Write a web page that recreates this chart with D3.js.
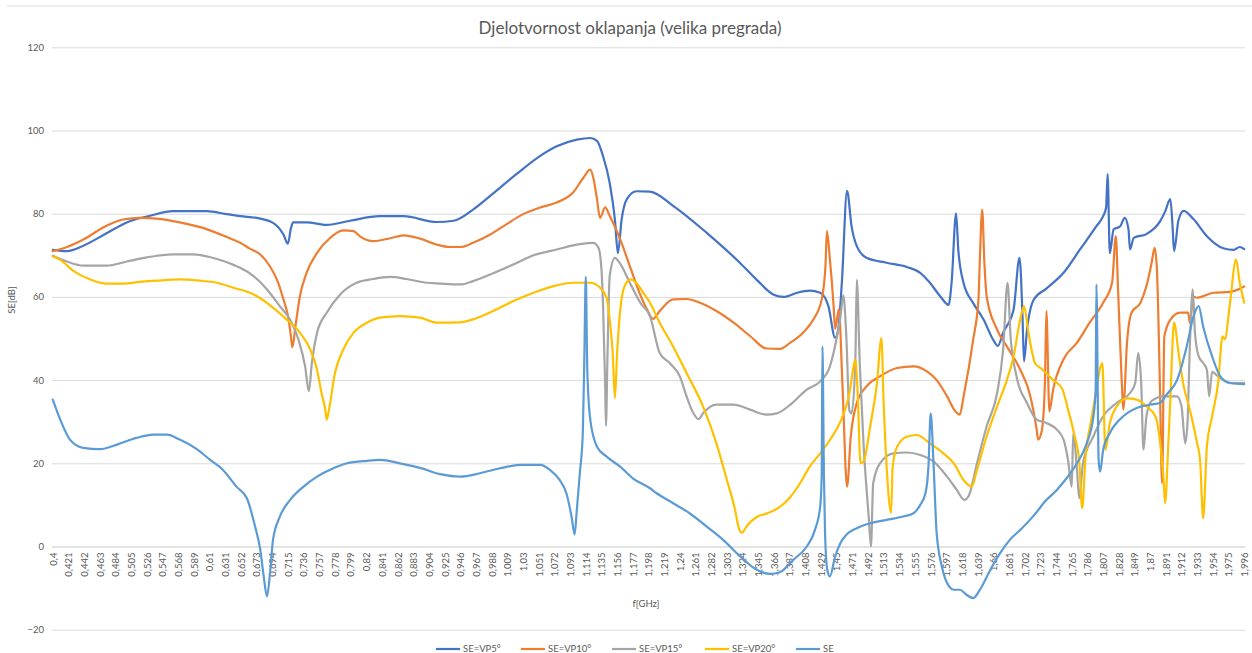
<!DOCTYPE html>
<html>
<head>
<meta charset="utf-8">
<script src="https://cdn.jsdelivr.net/npm/d3@7"></script>
<style>
  body { margin: 0; background: #fff; }
  svg { display: block; font-family: Lato, "Open Sans", sans-serif; }
</style>
</head>
<body>
<svg id="chart" width="1252" height="653"></svg>
<script>
// Djelotvornost oklapanja (velika pregrada) - SE vs f, Excel-style line chart

const xTickLabels = ['0,4','0,421','0,442','0,463','0,484','0,505','0,526','0,547','0,568','0,589','0,61','0,631','0,652','0,673','0,694','0,715','0,736','0,757','0,778','0,799','0,82','0,841','0,862','0,883','0,904','0,925','0,946','0,967','0,988',
  '1,009','1,03','1,051','1,072','1,093','1,114','1,135','1,156','1,177','1,198','1,219','1,24','1,261','1,282','1,303','1,324','1,345','1,366','1,387','1,408','1,429','1,45','1,471','1,492','1,513','1,534','1,555','1,576','1,597','1,618','1,639','1,66','1,681','1,702','1,723','1,744','1,765','1,786','1,807','1,828','1,849','1,87','1,891','1,912','1,933','1,954','1,975','1,996'];
const yTicks = [-20, 0, 20, 40, 60, 80, 100, 120];

// [f GHz, SE dB]
const vp5 = [[0.400,71.3],[0.419,71.0],[0.441,72.3],[0.472,75.3],[0.503,78.2],[0.530,79.5],[0.561,80.6],[0.606,80.6],[0.633,79.9],[0.651,79.4],[0.673,79.0],[0.695,77.8],[0.709,75.0],[0.715,72.8],[0.719,76.5],[0.722,77.9],[0.740,77.9],[0.767,77.3],[0.798,78.3],[0.838,79.4],[0.870,79.4],[0.914,78.0],[0.937,78.3],[0.963,81.0],[0.990,84.9],[1.021,89.5],[1.053,93.9],[1.075,96.2],[1.102,97.8],[1.120,98.2],[1.129,97.5],[1.137,93.9],[1.146,87.4],[1.153,78.6],[1.157,70.5],[1.162,78.6],[1.169,83.5],[1.182,85.4],[1.200,85.3],[1.231,81.9],[1.276,75.4],[1.321,68.1],[1.343,64.1],[1.365,60.6],[1.379,60.0],[1.397,61.0],[1.414,61.5],[1.428,61.0],[1.439,57.8],[1.448,50.2],[1.452,52.0],[1.457,63.4],[1.464,85.5],[1.470,77.0],[1.477,72.2],[1.490,69.4],[1.517,68.2],[1.544,67.2],[1.562,65.8],[1.575,63.4],[1.589,60.1],[1.600,58.1],[1.604,63.4],[1.610,80.1],[1.613,71.3],[1.620,63.4],[1.633,58.5],[1.647,54.5],[1.660,49.6],[1.666,48.2],[1.673,51.4],[1.687,56.9],[1.695,69.4],[1.699,55.3],[1.701,44.5],[1.705,52.0],[1.714,59.3],[1.731,62.0],[1.754,65.8],[1.776,71.4],[1.798,77.0],[1.807,79.4],[1.811,81.5],[1.813,89.5],[1.816,70.5],[1.821,76.2],[1.830,77.0],[1.836,79.0],[1.841,76.2],[1.843,71.4],[1.848,74.2],[1.865,75.1],[1.883,78.1],[1.890,80.5],[1.897,83.5],[1.900,77.0],[1.902,71.0],[1.908,78.5],[1.915,80.7],[1.928,78.7],[1.946,74.6],[1.968,71.7],[1.982,71.3],[1.990,72.0],[1.996,71.5]];

const vp10 = [[0.400,71.0],[0.419,72.0],[0.441,73.8],[0.472,77.1],[0.494,78.6],[0.517,79.0],[0.539,78.8],[0.570,77.9],[0.606,76.3],[0.633,74.4],[0.651,73.0],[0.664,71.6],[0.678,70.2],[0.691,67.3],[0.702,63.4],[0.709,59.4],[0.716,54.5],[0.719,50.5],[0.721,47.9],[0.725,52.9],[0.731,60.1],[0.740,65.8],[0.754,70.6],[0.771,74.1],[0.789,76.0],[0.803,75.8],[0.812,74.5],[0.829,73.4],[0.852,74.1],[0.870,74.8],[0.892,74.0],[0.914,72.6],[0.932,72.0],[0.946,72.0],[0.963,73.0],[0.986,75.0],[1.008,77.5],[1.030,79.9],[1.053,81.5],[1.075,82.7],[1.097,85.1],[1.111,88.7],[1.120,90.6],[1.124,88.7],[1.129,83.5],[1.133,79.0],[1.140,81.5],[1.146,79.5],[1.160,73.9],[1.173,67.4],[1.187,60.5],[1.196,57.0],[1.204,54.7],[1.213,56.6],[1.231,59.4],[1.249,59.5],[1.267,58.6],[1.289,56.6],[1.312,53.8],[1.334,50.6],[1.356,47.6],[1.374,47.5],[1.388,49.0],[1.405,51.4],[1.419,54.6],[1.430,59.4],[1.435,67.3],[1.437,75.8],[1.441,69.0],[1.446,57.8],[1.448,52.3],[1.453,57.0],[1.458,38.0],[1.464,14.4],[1.469,26.5],[1.477,34.5],[1.490,38.5],[1.508,40.9],[1.531,42.9],[1.553,43.3],[1.571,42.1],[1.584,40.0],[1.598,36.1],[1.609,32.5],[1.615,31.7],[1.620,36.0],[1.633,49.8],[1.640,59.4],[1.642,69.8],[1.645,81.0],[1.648,68.0],[1.651,60.1],[1.665,52.1],[1.678,48.1],[1.696,42.5],[1.709,36.5],[1.718,28.1],[1.720,25.7],[1.725,28.0],[1.729,39.3],[1.731,56.6],[1.735,32.5],[1.740,37.7],[1.754,45.0],[1.772,49.0],[1.789,53.8],[1.807,58.6],[1.819,63.4],[1.824,74.6],[1.827,61.8],[1.832,39.3],[1.834,32.9],[1.839,49.0],[1.845,56.2],[1.857,58.6],[1.865,62.6],[1.872,68.2],[1.876,71.8],[1.879,66.8],[1.883,39.3],[1.886,15.2],[1.889,50.5],[1.897,54.5],[1.910,56.2],[1.921,56.2],[1.923,53.8],[1.928,60.1],[1.932,59.8],[1.955,61.0],[1.977,61.2],[1.996,62.5]];

const vp15 = [[0.400,69.9],[0.419,68.5],[0.441,67.5],[0.472,67.5],[0.499,68.5],[0.526,69.5],[0.561,70.2],[0.588,70.2],[0.620,69.1],[0.642,67.7],[0.651,67.0],[0.669,65.0],[0.687,61.8],[0.704,57.8],[0.718,54.5],[0.729,49.8],[0.738,43.3],[0.743,37.3],[0.747,44.0],[0.754,51.4],[0.767,56.2],[0.785,60.6],[0.807,63.4],[0.829,64.3],[0.852,64.8],[0.874,64.3],[0.901,63.4],[0.919,63.2],[0.946,63.0],[0.963,63.8],[0.990,65.7],[1.017,67.8],[1.044,70.0],[1.075,71.4],[1.106,72.7],[1.124,73.0],[1.131,71.8],[1.135,66.6],[1.137,58.6],[1.140,38.5],[1.141,29.0],[1.143,45.2],[1.146,65.0],[1.153,69.4],[1.160,68.0],[1.173,63.4],[1.187,58.6],[1.200,55.4],[1.213,46.5],[1.227,44.0],[1.240,40.9],[1.249,36.1],[1.258,32.1],[1.265,30.6],[1.271,32.0],[1.289,34.1],[1.312,34.1],[1.334,32.9],[1.356,31.7],[1.370,32.0],[1.388,34.1],[1.410,37.7],[1.428,39.7],[1.441,43.3],[1.450,50.0],[1.455,55.0],[1.459,60.4],[1.463,50.5],[1.467,32.8],[1.470,32.0],[1.475,44.0],[1.477,64.1],[1.481,44.0],[1.486,24.8],[1.493,7.1],[1.496,0.0],[1.499,15.2],[1.508,20.0],[1.526,22.4],[1.544,22.6],[1.562,22.0],[1.580,20.4],[1.598,16.8],[1.611,13.6],[1.621,11.2],[1.627,12.2],[1.638,20.0],[1.651,28.9],[1.665,36.9],[1.673,47.3],[1.679,63.4],[1.683,50.5],[1.691,40.9],[1.705,34.5],[1.718,30.5],[1.731,29.7],[1.745,28.1],[1.754,25.7],[1.760,20.8],[1.765,14.4],[1.767,27.3],[1.772,18.4],[1.775,11.6],[1.780,20.0],[1.794,26.5],[1.807,31.3],[1.825,34.5],[1.843,36.9],[1.850,39.3],[1.854,46.5],[1.858,39.3],[1.861,23.3],[1.865,31.3],[1.872,35.0],[1.888,36.1],[1.906,36.1],[1.912,33.7],[1.917,24.8],[1.920,29.7],[1.923,47.3],[1.927,61.8],[1.930,51.4],[1.935,45.7],[1.941,44.1],[1.946,42.5],[1.949,36.1],[1.953,42.0],[1.959,41.2],[1.968,40.0],[1.977,39.3],[1.996,39.3]];

const vp20 = [[0.400,69.7],[0.410,68.9],[0.428,66.2],[0.450,64.2],[0.472,63.2],[0.494,63.2],[0.517,63.6],[0.539,63.9],[0.570,64.2],[0.597,63.9],[0.620,63.4],[0.642,62.2],[0.664,61.0],[0.673,60.2],[0.695,57.4],[0.713,54.6],[0.731,51.4],[0.745,47.3],[0.754,42.5],[0.760,36.9],[0.765,32.9],[0.767,30.5],[0.770,32.9],[0.778,41.7],[0.789,47.3],[0.803,51.4],[0.821,53.8],[0.838,55.0],[0.865,55.4],[0.892,55.0],[0.914,53.8],[0.946,53.9],[0.963,54.6],[0.990,56.6],[1.017,59.0],[1.044,61.0],[1.071,62.6],[1.097,63.4],[1.120,63.4],[1.133,62.2],[1.142,59.8],[1.146,54.6],[1.150,46.6],[1.153,35.7],[1.156,46.6],[1.160,56.6],[1.166,62.6],[1.174,64.2],[1.182,63.3],[1.191,61.0],[1.200,58.6],[1.213,53.8],[1.231,48.1],[1.249,41.7],[1.271,33.7],[1.289,24.8],[1.303,16.0],[1.314,8.8],[1.319,4.4],[1.323,3.3],[1.330,5.0],[1.343,7.1],[1.356,7.9],[1.374,9.5],[1.388,11.9],[1.401,15.2],[1.414,19.2],[1.428,22.4],[1.441,25.6],[1.455,30.0],[1.468,37.7],[1.472,42.5],[1.475,44.9],[1.478,37.7],[1.482,20.0],[1.486,20.4],[1.495,28.9],[1.504,39.3],[1.510,50.1],[1.513,34.5],[1.517,19.3],[1.523,8.1],[1.525,19.0],[1.531,24.0],[1.544,26.4],[1.557,26.8],[1.575,24.8],[1.593,22.4],[1.607,20.0],[1.620,16.0],[1.631,14.4],[1.638,18.4],[1.651,26.5],[1.665,33.7],[1.678,40.0],[1.687,45.7],[1.696,54.6],[1.701,57.8],[1.707,51.4],[1.716,44.0],[1.724,42.8],[1.740,40.0],[1.752,38.0],[1.760,32.9],[1.769,26.4],[1.775,20.4],[1.779,9.2],[1.783,20.4],[1.792,31.3],[1.798,37.7],[1.803,42.9],[1.806,44.1],[1.810,23.2],[1.816,29.6],[1.825,33.6],[1.839,35.6],[1.852,35.3],[1.865,33.7],[1.877,31.3],[1.883,25.6],[1.888,16.0],[1.890,10.4],[1.894,23.3],[1.897,35.3],[1.902,53.8],[1.908,46.6],[1.915,38.5],[1.923,33.0],[1.932,25.6],[1.937,20.4],[1.941,6.8],[1.946,24.0],[1.953,31.3],[1.961,39.3],[1.967,50.5],[1.970,49.8],[1.977,58.6],[1.985,69.0],[1.990,63.4],[1.996,58.6]];

const se = [[0.400,35.3],[0.410,30.5],[0.423,25.7],[0.441,23.7],[0.463,23.4],[0.486,24.5],[0.512,26.1],[0.535,26.9],[0.553,26.9],[0.570,25.7],[0.593,23.4],[0.611,20.8],[0.628,18.4],[0.646,14.4],[0.660,11.6],[0.671,4.8],[0.678,-0.8],[0.682,-6.4],[0.687,-12.0],[0.691,-6.4],[0.695,1.6],[0.704,7.1],[0.718,11.2],[0.736,14.4],[0.754,16.8],[0.771,18.4],[0.794,20.0],[0.821,20.6],[0.838,20.8],[0.865,20.0],[0.892,18.9],[0.919,17.4],[0.946,16.8],[0.972,17.6],[0.999,18.8],[1.026,19.6],[1.053,19.6],[1.066,18.4],[1.079,16.0],[1.088,12.8],[1.095,7.1],[1.099,2.9],[1.102,8.8],[1.106,17.6],[1.110,27.3],[1.112,45.0],[1.114,64.8],[1.116,42.5],[1.120,30.5],[1.129,24.0],[1.142,21.6],[1.160,19.2],[1.177,16.4],[1.200,14.0],[1.209,12.8],[1.231,10.4],[1.253,8.0],[1.276,4.8],[1.298,1.6],[1.321,-2.4],[1.343,-5.6],[1.361,-6.6],[1.374,-6.2],[1.392,-3.2],[1.410,0.0],[1.421,4.0],[1.428,9.6],[1.430,17.1],[1.431,48.1],[1.433,17.0],[1.4345,3.2],[1.4375,-5.6],[1.441,-7.2],[1.448,-2.4],[1.455,0.8],[1.463,2.8],[1.477,4.4],[1.495,5.6],[1.517,6.4],[1.539,7.2],[1.553,8.0],[1.562,10.0],[1.569,12.8],[1.573,19.2],[1.576,32.0],[1.580,19.2],[1.584,3.2],[1.591,-4.8],[1.598,-8.8],[1.607,-10.4],[1.615,-10.4],[1.624,-11.6],[1.633,-12.4],[1.642,-10.4],[1.656,-5.6],[1.669,-1.6],[1.682,1.6],[1.696,4.0],[1.709,6.4],[1.722,9.2],[1.727,10.4],[1.745,13.6],[1.758,16.4],[1.772,20.0],[1.785,24.8],[1.794,31.3],[1.797,37.7],[1.798,63.0],[1.801,20.8],[1.803,18.0],[1.807,23.2],[1.816,27.3],[1.834,31.3],[1.852,33.3],[1.870,34.1],[1.883,34.5],[1.892,36.5],[1.906,40.0],[1.919,48.1],[1.928,55.3],[1.935,57.8],[1.941,52.9],[1.953,45.7],[1.964,40.9],[1.977,39.3],[1.996,39.0]];

const seriesNames = ['SE=VP5°', 'SE=VP10°', 'SE=VP15°', 'SE=VP20°', 'SE'];
const seriesData = [vp5, vp10, vp15, vp20, se];
const seriesColors = ['#4472C4', '#ED7D31', '#A5A5A5', '#FFC000', '#5B9BD5'];

const svg = d3.select('#chart');
const W = 1252, H = 653;
const plot = { left: 52, right: 1245, top: 47.3, bottom: 629.7 };

const nCat = 761; // categories in the Excel sheet, labels every 10th
const half = (plot.right - plot.left) / nCat / 2;
const x = d3.scaleLinear().domain([0.4, 1.996]).range([plot.left + half, plot.right - half]);
const y = d3.scaleLinear().domain([-20, 120]).range([plot.bottom, plot.top]);

const textCol = '#595959';
const gridCol = '#D9D9D9';

// chart area top border
svg.append('line').attr('x1', 7).attr('x2', W).attr('y1', 6).attr('y2', 6)
  .attr('stroke', gridCol).attr('stroke-width', 1);

// title
svg.append('text').attr('x', 630).attr('y', 34).attr('text-anchor', 'middle')
  .attr('fill', textCol).attr('font-size', '17px').text('Djelotvornost oklapanja (velika pregrada)');

// horizontal gridlines + y labels
const yAxis = d3.axisLeft(y).tickValues(yTicks).tickSize(-(plot.right - plot.left)).tickPadding(8);
const gy = svg.append('g').attr('transform', `translate(${plot.left},0)`).call(yAxis);
gy.select('.domain').remove();
gy.selectAll('.tick line').attr('stroke', gridCol).attr('stroke-width', 1);
gy.selectAll('.tick text').attr('fill', textCol).attr('font-size', '9.5px').attr('font-family', 'Lato, sans-serif');

// category axis crossing at 0
const xAxis = d3.axisBottom(x)
  .tickValues(xTickLabels.map(s => +s.replace(',', '.')))
  .tickFormat((d, i) => xTickLabels[i])
  .tickSize(0).tickPadding(0);
const gx = svg.append('g').attr('transform', `translate(0,${y(0)})`).call(xAxis);
gx.select('.domain').attr('stroke', gridCol).attr('d', `M${plot.left},0.5H${plot.right}`);
gx.selectAll('.tick text')
  .attr('fill', textCol).attr('font-size', '9.5px').attr('font-family', 'Lato, sans-serif')
  .attr('text-anchor', 'end').attr('transform', 'rotate(-90)')
  .attr('x', -6).attr('y', 0).attr('dy', '0.35em');

// axis titles
svg.append('text').attr('transform', 'translate(15,300) rotate(-90)').attr('text-anchor', 'middle')
  .attr('fill', textCol).attr('font-size', '9.5px').text('SE[dB]');
svg.append('text').attr('x', 646).attr('y', 607).attr('text-anchor', 'middle')
  .attr('fill', textCol).attr('font-size', '9.5px').text('f[GHz]');

// series lines
const line = d3.line().x(d => x(d[0])).y(d => y(d[1])).curve(d3.curveMonotoneX);
const lineGroup = svg.append('g');
seriesData.forEach((data, i) => {
  lineGroup.append('path').datum(data)
    .attr('d', line)
    .attr('fill', 'none')
    .attr('stroke', seriesColors[i])
    .attr('stroke-width', 2.2)
    .attr('stroke-linejoin', 'round')
    .attr('stroke-linecap', 'round');
});

// legend
const legendX = [436, 521, 612, 705, 796];
const legend = svg.append('g').attr('transform', 'translate(0,649)');
seriesNames.forEach((name, i) => {
  legend.append('line').attr('x1', legendX[i]).attr('x2', legendX[i] + 24).attr('y1', 0).attr('y2', 0)
    .attr('stroke', seriesColors[i]).attr('stroke-width', 2.2);
  legend.append('text').attr('x', legendX[i] + 27).attr('y', 0).attr('dy', '0.35em')
    .attr('fill', textCol).attr('font-size', '9.5px').text(name);
});
</script>
</body>
</html>
